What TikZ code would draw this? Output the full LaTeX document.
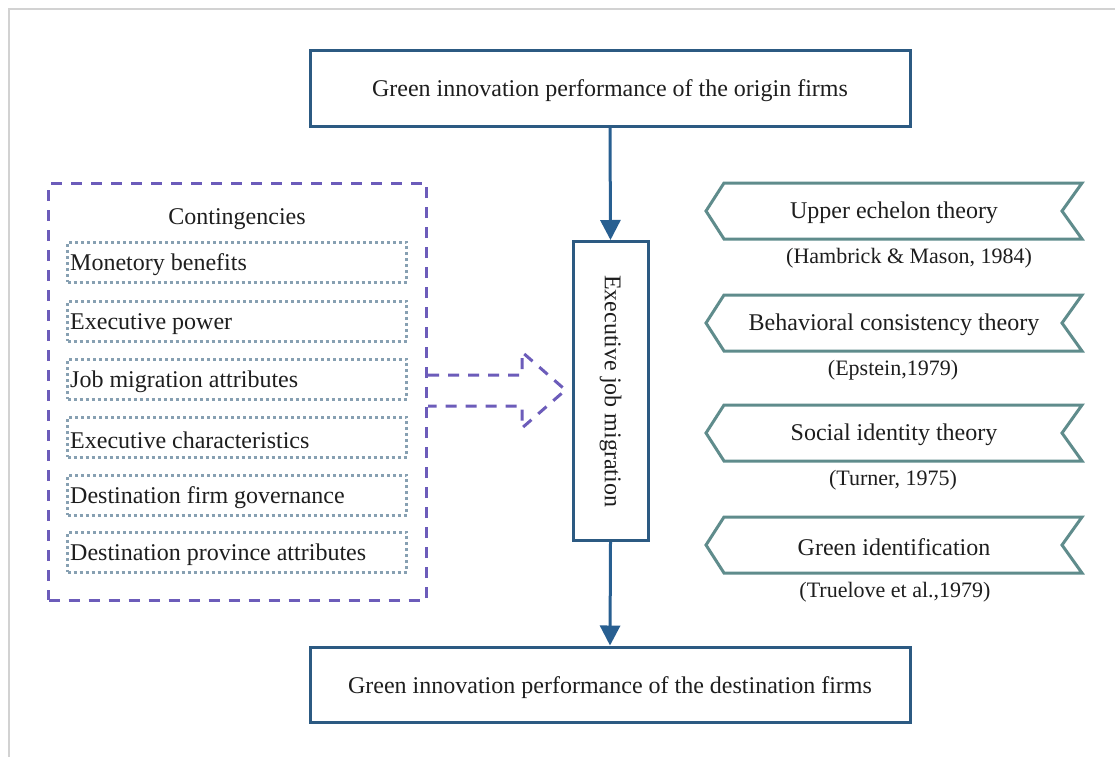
\documentclass[tikz,border=0pt]{standalone}
\usepackage{fontspec}
\setmainfont{Liberation Serif}
\usetikzlibrary{arrows.meta}
\definecolor{boxblue}{RGB}{44,90,130}
\definecolor{arrblue}{RGB}{40,95,145}
\definecolor{purp}{RGB}{108,92,186}
\definecolor{dotc}{RGB}{135,160,178}
\definecolor{teal}{RGB}{95,140,140}
\definecolor{txt}{RGB}{30,30,30}
\definecolor{frame}{RGB}{210,210,210}
\tikzset{
  bluebox/.style={draw=boxblue, line width=3pt, fill=white, inner sep=0pt, text=txt},
  flow/.style={draw=arrblue, line width=3pt, -{Triangle[length=20pt,width=20pt]}},
  dotbox/.style={draw=dotc, line width=3pt, dash pattern=on 3pt off 3pt, minimum width=339pt, minimum height=40pt, inner sep=0pt, text=txt},
  purpdash/.style={draw=purp, line width=3pt, dash pattern=on 11pt off 9pt},
  chev/.style={draw=teal, line width=3pt, line join=miter},
  lbl/.style={text=txt, inner sep=0pt},
  big/.style={font=\fontsize{24}{28}\selectfont},
  cite/.style={font=\fontsize{22}{26}\selectfont},
}
\begin{document}
\begin{tikzpicture}[x=1pt,y=-1pt]
\useasboundingbox (0,0) rectangle (1115,756);
\fill[white] (0,0) rectangle (1115,756);
\draw[frame, line width=2pt] (1116,9) -- (9,9) -- (9,757);

% main flow
\node[bluebox, minimum width=600pt, minimum height=76pt] (origin) at (610,88) {};
\node[lbl, big] at ([yshift=-3pt]origin.center) {Green innovation performance of the origin firms};
\node[bluebox, big, minimum width=75pt, minimum height=299pt] (exec) at (610.5,391) {\rotatebox{-90}{Executive job migration}};
\node[bluebox, minimum width=600pt, minimum height=75pt] (dest) at (610,684.5) {};
\node[lbl, big] at ([yshift=-3pt]dest.center) {Green innovation performance of the destination firms};
\draw[flow] (origin.south) -- (exec.north);
\draw[flow] (exec.south) -- (dest.north);

% contingencies
\node[purpdash, minimum width=378pt, minimum height=417pt, inner sep=0pt] (cont) at (237.5,391.5) {};
\node[lbl, big] (conttitle) at (237,219) {Contingencies};
\foreach \y/\t/\n in {262/Monetory benefits/c1, 321/Executive power/c2, 379/Job migration attributes/c3, 437/Executive characteristics/c4, 495/Destination firm governance/c5, 552/Destination province attributes/c6}{
  \node[dotbox] (\n) at (237,\y) {};
  \node[lbl, big, anchor=west] at ([xshift=4pt,yshift=-3pt]\n.west) {\t};
}

% hollow dashed arrow
\coordinate (ha1) at (cont.east |- 0,375);
\coordinate (ha2) at (cont.east |- 0,406);
\coordinate (tip) at (exec.west |- 0,390);
\draw[purpdash, line join=miter] (ha1) -- (522,375) -- (522,352) -- ([xshift=-6pt]tip) -- (522,428) -- (522,406) -- (ha2);

% theory chevrons
\foreach \c/\t/\ci/\cx/\n in {211/Upper echelon theory/{(Hambrick \& Mason, 1984)}/909/t1, 323/Behavioral consistency theory/{(Epstein,1979)}/893/t2, 433/Social identity theory/{(Turner, 1975)}/893/t3, 545/Green identification/{(Truelove et al.,1979)}/895/t4}{
  \draw[chev] (724,\c-28) -- (1082,\c-28) -- (1062,\c) -- (1082,\c+28) -- (724,\c+28) -- (706,\c) -- cycle;
  \node[lbl, big] (\n) at (894,\c+2) {\t};
  \node[lbl, cite] (\n c) at (\cx,\c+47) {\ci};
}
\end{tikzpicture}
\end{document}
